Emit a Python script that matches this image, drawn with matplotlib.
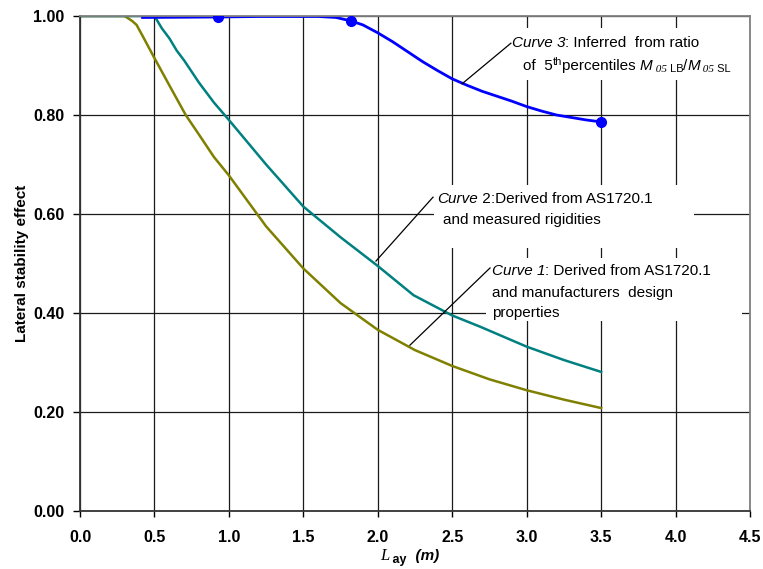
import numpy as np
import matplotlib.pyplot as plt
from matplotlib.patches import Rectangle

# curve 3 (blue) - inferred from ratio of 5th percentiles
c3_x = [0.42, 0.93, 1.2, 1.6, 1.72, 1.82, 1.9, 2.0, 2.1, 2.2, 2.3, 2.4, 2.5, 2.6,
        2.7, 2.8, 2.9, 3.0, 3.1, 3.2, 3.3, 3.4, 3.5]
c3_y = [0.997, 0.998, 0.999, 0.999, 0.997, 0.990, 0.982, 0.966, 0.948, 0.928, 0.908,
        0.890, 0.873, 0.860, 0.848, 0.838, 0.828, 0.817, 0.808, 0.800, 0.795, 0.790, 0.786]
c3_pts_x = [0.93, 1.82, 3.5]
c3_pts_y = [0.998, 0.990, 0.786]

# curve 2 (teal) - measured rigidities
c2_x = [0.0, 0.5, 0.55, 0.6, 0.65, 0.7, 0.8, 0.9, 1.0, 1.25, 1.5, 1.75, 2.0,
        2.24, 2.5, 2.69, 3.0, 3.25, 3.5]
c2_y = [1.0, 1.0, 0.975, 0.955, 0.93, 0.91, 0.865, 0.825, 0.79, 0.70, 0.615,
        0.553, 0.495, 0.436, 0.395, 0.372, 0.332, 0.305, 0.281]

# curve 1 (olive) - manufacturers design properties
c1_x = [0.0, 0.3, 0.35, 0.38, 0.42, 0.5, 0.6, 0.71, 0.8, 0.9, 1.0, 1.25, 1.5, 1.75,
        2.0, 2.25, 2.5, 2.75, 3.0, 3.25, 3.5]
c1_y = [1.0, 1.0, 0.99, 0.982, 0.96, 0.915, 0.86, 0.80, 0.76, 0.715, 0.678, 0.575,
        0.49, 0.42, 0.366, 0.325, 0.293, 0.266, 0.244, 0.225, 0.208]

x_ticks = np.arange(0, 4.51, 0.5)
y_ticks = np.arange(0, 1.01, 0.2)

W, H = 763, 569
fig = plt.figure(figsize=(W / 100, H / 100), dpi=100)
ax = fig.add_axes([80 / W, 1 - 511 / H, 670 / W, 495 / H])
plt.rcParams['font.family'] = ['Liberation Sans', 'DejaVu Sans']

ax.set_xlim(0, 4.5)
ax.set_ylim(0, 1.0)
ax.set_xticks(x_ticks, [f"{v:.1f}" for v in x_ticks])
ax.set_yticks(y_ticks, [f"{v:.2f}" for v in y_ticks])
for lab in ax.get_xticklabels() + ax.get_yticklabels():
    lab.set_fontweight('bold')
    lab.set_fontsize(11.5)
    lab.set_family('Liberation Sans')
ax.tick_params(axis='x', direction='out', length=4, pad=10, width=1)
ax.tick_params(axis='y', direction='out', length=5, pad=6, width=1)
ax.set_axisbelow(True)
ax.grid(True, color='#1a1a1a', linewidth=0.9)
for s in ['top', 'right']:
    ax.spines[s].set_color('#808080')
    ax.spines[s].set_linewidth(1.3)
for s in ['left', 'bottom']:
    ax.spines[s].set_color('#333333')
    ax.spines[s].set_linewidth(1.3)

# white text boxes hiding the grid
boxes = [(2.82, 0.871, 4.486, 0.976), (2.38, 0.531, 4.124, 0.659), (2.727, 0.384, 4.446, 0.511)]
for x0, y0, x1, y1 in boxes:
    ax.add_patch(Rectangle((x0, y0), x1 - x0, y1 - y0, facecolor='white',
                           edgecolor='none', zorder=1))

ax.plot(c1_x, c1_y, color='#808000', lw=1.8, zorder=2)
ax.plot(c2_x, c2_y, color='#008080', lw=1.8, zorder=2)
ax.plot(c3_x, c3_y, color='#0000ff', lw=2.0, zorder=2)
ax.plot(c3_pts_x, c3_pts_y, 'o', color='#0000ff', ms=7, zorder=3)

# leader lines
leaders = [((2.894, 0.945), (2.566, 0.863)),
           ((2.371, 0.634), (1.988, 0.505)),
           ((2.754, 0.491), (2.216, 0.335))]
for (xa, ya), (xb, yb) in leaders:
    ax.plot([xa, xb], [ya, yb], color='black', lw=0.9, zorder=3)

renderer = fig.canvas.get_renderer()


def rich(x, y, pieces, coords='data'):
    # pieces: (text, style dict, baseline shift in px)
    if coords == 'data':
        px, py = ax.transData.transform((x, y))
    else:
        px, py = x, y
    for s, kw, dy in pieces:
        t = fig.text(px / W, (py + dy) / H, s, ha='left', va='baseline',
                     zorder=4, **kw)
        px += t.get_window_extent(renderer).width


reg = dict(fontsize=11, family='Liberation Sans')
ita = dict(fontsize=11, family='Liberation Sans', style='italic')
sml = dict(fontsize=8, family='Liberation Sans')
sub = dict(fontsize=8, family='Liberation Serif', style='italic')

rich(2.90, 0.937, [("Curve 3", ita, 0), (": Inferred  from ratio", reg, 0)])
rich(2.975, 0.891, [("of  5", reg, 0), ("th", sml, 5), ("percentiles ", reg, 0),
                    ("M", ita, 0), (" 05", sub, -2), (" LB", sml, -2), ("/", reg, 0),
                    ("M", ita, 0), (" 05", sub, -2), (" SL", sml, -2)])
rich(2.40, 0.622, [("Curve", ita, 0), (" 2", reg, 0), (":Derived from AS1720.1", reg, 0)])
rich(2.44, 0.580, [("and measured rigidities", reg, 0)])
rich(2.767, 0.477, [("Curve 1", ita, 0), (": Derived from AS1720.1", reg, 0)])
rich(2.767, 0.432, [("and manufacturers  design", reg, 0)])
rich(2.767, 0.392, [("properties", reg, 0)])

# axis labels
fig.text(22 / W, 1 - 263 / H, "Lateral stability effect", rotation=90, ha='center',
         va='center', fontsize=11, fontweight='bold', family='Liberation Sans')
rich(380, H - 560, [("L", dict(fontsize=12, family='Liberation Serif', style='italic'), 0),
                    (" ay", dict(fontsize=9, family='Liberation Sans', weight='bold'), -3),
                    ("  (m)", dict(fontsize=11, family='Liberation Sans', weight='bold',
                                   style='italic'), 0)], coords='px')

fig.savefig('out.png', dpi=100)
